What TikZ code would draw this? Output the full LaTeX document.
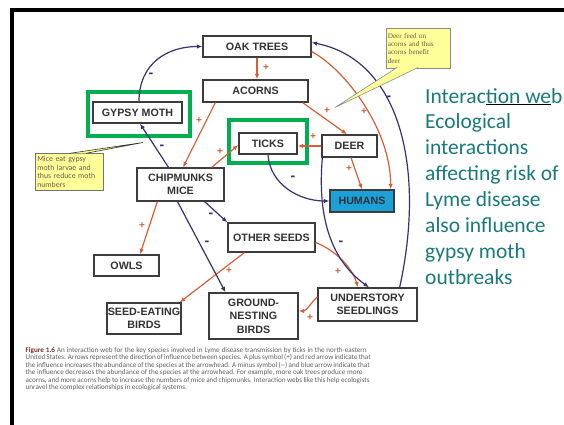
\documentclass[tikz,border=0pt]{standalone}
\usepackage{fontspec}
\setmainfont{Liberation Sans}
\newfontfamily\calib{Carlito}
\newfontfamily\tms{Liberation Serif}
\usetikzlibrary{arrows.meta}
\definecolor{redarr}{RGB}{215,95,55}
\definecolor{bluearr}{RGB}{55,50,110}
\definecolor{boxline}{RGB}{60,60,60}
\definecolor{nodetext}{RGB}{50,50,50}
\definecolor{humfill}{RGB}{28,160,216}
\definecolor{hlgreen}{RGB}{0,176,80}
\definecolor{tealtxt}{RGB}{26,122,122}
\definecolor{callfill}{RGB}{255,255,153}
\definecolor{calltext}{RGB}{110,90,70}
\definecolor{captext}{RGB}{95,95,95}
\definecolor{capbold}{RGB}{115,45,35}
\begin{document}
\begin{tikzpicture}[x=1pt,y=-1pt,
  nbox/.style={draw=boxline, line width=1.3pt, fill=white, text=nodetext,
    font=\bfseries\fontsize{10.7}{13.5}\selectfont, align=center, inner sep=0pt},
  posarr/.style={draw=redarr, line width=1.2pt, -{Latex[length=5.5pt,width=4.5pt]}},
  negarr/.style={draw=bluearr, line width=1.2pt, -{Latex[length=5.5pt,width=4.5pt]}},
  plussign/.style={text=redarr, font=\bfseries\fontsize{10}{10}\selectfont, inner sep=0pt},
  minussign/.style={text=bluearr, font=\bfseries\fontsize{14}{14}\selectfont, inner sep=0pt},
  hlbox/.style={draw=hlgreen, line width=4pt},
  sidetxt/.style={anchor=base west, text=tealtxt, font=\calib\fontsize{21.5}{25.9}\selectfont, inner sep=0pt},
  capline/.style={anchor=base west, text=captext, font=\calib\fontsize{7.15}{7.5}\selectfont, inner sep=0pt}
]
\useasboundingbox (0,0) rectangle (564,425);
\fill[white] (0,0) rectangle (564,425);
% frame
\draw[black, line width=4pt] (12,425) -- (12,10) -- (564,10);

% nodes
\node[nbox, minimum width=108pt, minimum height=21pt] (oak) at (257,46.5) {OAK TREES};
\node[nbox, minimum width=105pt, minimum height=22pt] (acorns) at (255.5,91) {ACORNS};
\node[nbox, minimum width=89pt, minimum height=21pt] (gypsy) at (137.5,112.5) {GYPSY MOTH};
\node[nbox, minimum width=58pt, minimum height=21pt] (ticks) at (268,143.5) {TICKS};
\node[nbox, minimum width=55pt, minimum height=22pt] (deer) at (349.5,146) {DEER};
\node[nbox, fill=humfill, minimum width=64pt, minimum height=22pt] (humans) at (362,201) {HUMANS};
\node[nbox, minimum width=87pt, minimum height=33pt] (mice) at (180.5,184.5) {CHIPMUNKS\\MICE};
\node[nbox, minimum width=87pt, minimum height=29pt] (other) at (271.5,237.5) {OTHER SEEDS};
\node[nbox, minimum width=65pt, minimum height=21pt] (owls) at (126.5,265.5) {OWLS};
\node[nbox, minimum width=74pt, minimum height=31pt] (seedeat) at (144,318.5) {SEED-EATING\\BIRDS};
\node[nbox, minimum width=89pt, minimum height=46pt] (ground) at (253.5,316) {GROUND-\\NESTING\\BIRDS};
\node[nbox, minimum width=99pt, minimum height=33pt] (under) at (367.5,304.5) {UNDERSTORY\\SEEDLINGS};

% green highlights
\draw[hlbox] (88,92) rectangle (190,136);
\draw[hlbox] (229,120) rectangle (307,163);

% positive (red) connectors
\draw[posarr] (oak.south) -- (oak.south |- acorns.north);
\draw[posarr] ([xshift=13pt]acorns.south west) -- ([xshift=2.5pt]mice.north);
\draw[posarr] ([xshift=-13pt]mice.north east) -- ([yshift=-1.5pt]ticks.west);
\draw[posarr] ([xshift=-6pt]acorns.south east) -- ([xshift=-2.5pt]deer.north);
\draw[posarr] (deer.west) -- (deer.west -| ticks.east);
\draw[posarr] ([xshift=1.5pt]deer.south) -- (humans.north);
\draw[posarr] ([xshift=21pt]mice.south west) -- ([xshift=13.5pt]owls.north);
\draw[posarr] ([xshift=17pt]other.south west) -- ([xshift=-2pt]seedeat.north east);
\draw[posarr] ([yshift=-5pt]other.east) .. controls +(20,8) and +(-6,-20) .. ([xshift=-9.5pt]under.north);
\draw[posarr] ([yshift=7.5pt]under.west) .. controls +(-6,5) and +(8,0) .. ([yshift=5pt]ground.east);
\draw[posarr] ([yshift=-5pt]oak.east) .. controls +(34,18.5) and +(0,-60) .. ([xshift=-4pt]humans.north east);

% negative (blue) connectors
\draw[negarr] ([xshift=1.5pt]gypsy.north) .. controls +(0,-38) and +(-35,0) .. (oak.west);
\draw[negarr] ([xshift=-12pt]mice.north) -- ([xshift=2.5pt]gypsy.south);
\draw[negarr] (ticks.south) .. controls +(2,30) and +(-30,0) .. (humans.west);
\draw[negarr] ([xshift=-20pt]mice.south east) -- (other.north west);
\draw[negarr] ([xshift=-3pt]mice.south) -- ([xshift=-28pt]ground.north);
\draw[negarr] ([xshift=1pt]deer.south west) .. controls +(-5,58) and +(-39,-28) .. ([xshift=1.5pt]under.north);
\draw[negarr] ([xshift=-18pt]under.north east) .. controls +(26,-118) and +(89,17.5) .. ([yshift=4pt]oak.east);

% signs
\node[plussign] (s1) at (266,68) {+};
\node[plussign] (s2) at (199,121) {+};
\node[plussign] (s3) at (220,152) {+};
\node[plussign] (s4) at (327,111) {+};
\node[plussign] (s5) at (364,112) {+};
\node[plussign] (s6) at (313,137) {+};
\node[plussign] (s7) at (349,169) {+};
\node[plussign] (s8) at (142,226) {+};
\node[plussign] (s9) at (229,271) {+};
\node[plussign] (s10) at (338,272) {+};
\node[plussign] (s11) at (310,318) {+};
\node[minussign] (m1) at (151,75) {-};
\node[minussign] (m2) at (162,147) {-};
\node[minussign] (m3) at (293,178) {-};
\node[minussign] (m4) at (211,215) {-};
\node[minussign] (m5) at (207,243) {-};
\node[minussign] (m6) at (341,243) {-};
\node[minussign] (m7) at (389,98) {-};

% callouts
\node[draw=black!55, line width=0.6pt, fill=callfill, anchor=north west, minimum width=68pt, minimum height=37pt,
  text width=64pt, align=left, inner sep=1.5pt, text=calltext, font=\calib\fontsize{7.8}{8.6}\selectfont] (cmice) at (35,153)
  {Mice eat gypsy\\moth larvae and\\thus reduce moth\\numbers};
\filldraw[fill=callfill, draw=black!80, line width=0.6pt] (70,153.3) -- (143,142.5) -- (86,153.3);
\node[draw=black!45, line width=0.6pt, fill=callfill, anchor=north west, minimum width=64pt, minimum height=40pt,
  text width=61pt, align=left, inner sep=1.5pt, text=calltext, font=\tms\fontsize{7.2}{8.3}\selectfont] (cdeer) at (386,28)
  {Deer feed on\\acorns and thus\\acorns benefit\\deer};
\filldraw[fill=callfill, draw=black!45, line width=0.6pt] (397,67.5) -- (335,107.5) -- (418,67.5);

% side text
\node[sidetxt] (t1) at (425,103) {Interac{\color{black}\underline{\color{tealtxt}tion we}}b};
\node[sidetxt] (t2) at (425,128.9) {Ecological};
\node[sidetxt] (t3) at (425,154.8) {interactions};
\node[sidetxt] (t4) at (425,180.7) {affecting risk of};
\node[sidetxt] (t5) at (425,206.6) {Lyme disease};
\node[sidetxt] (t6) at (425,232.5) {also influence};
\node[sidetxt] (t7) at (425,258.4) {gypsy moth};
\node[sidetxt] (t8) at (425,284.3) {outbreaks};

% caption
\node[capline] (c1) at (25.5,352) {\makebox[341pt][s]{{\color{capbold}\bfseries Figure 1.6} An interaction web for the key species involved in Lyme disease transmission by ticks in the north-eastern}};
\node[capline] (c2) at (25.5,359.5) {\makebox[345pt][s]{United States. Arrows represent the direction of influence between species. A plus symbol (+) and red arrow indicate that}};
\node[capline] (c3) at (25.5,367) {\makebox[344pt][s]{the influence increases the abundance of the species at the arrowhead. A minus symbol (--) and blue arrow indicate that}};
\node[capline] (c4) at (25.5,374.5) {the influence decreases the abundance of the species at the arrowhead. For example, more oak trees produce more};
\node[capline] (c5) at (25.5,382) {\makebox[344pt][s]{acorns, and more acorns help to increase the numbers of mice and chipmunks. Interaction webs like this help ecologists}};
\node[capline] (c6) at (25.5,389.5) {unravel the complex relationships in ecological systems.};
\end{tikzpicture}
\end{document}
